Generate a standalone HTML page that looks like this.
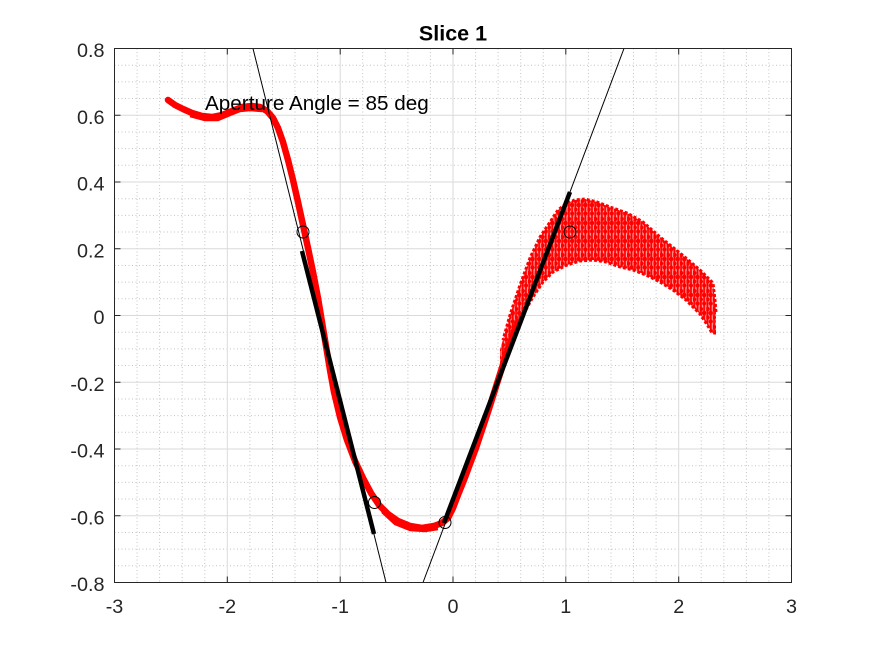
<!DOCTYPE html>
<html>
<head>
<meta charset="utf-8">
<style>
html,body{margin:0;padding:0;background:#fff;}
svg{display:block;}
text{font-family:"Liberation Sans",Arial,sans-serif;}
</style>
</head>
<body>
<svg width="875" height="656" viewBox="0 0 875 656" xmlns="http://www.w3.org/2000/svg">
<defs>
  <clipPath id="ax"><rect x="114.5" y="48.5" width="677" height="534"/></clipPath>
  <pattern id="vl" patternUnits="userSpaceOnUse" x="0" y="0" width="6.6" height="18">
    <rect x="0.3" y="0" width="1.9" height="18" fill="#ff0000"/>
    <rect x="3.6" y="0" width="1.9" height="18" fill="#ff0000"/>
    <circle cx="1.25" cy="3" r="2.3" fill="#ff0000"/>
    <circle cx="1.25" cy="11.5" r="2.1" fill="#ff0000"/>
    <circle cx="4.55" cy="7" r="2.3" fill="#ff0000"/>
    <circle cx="4.55" cy="15.5" r="2.1" fill="#ff0000"/>
  </pattern>
</defs>
<rect x="0" y="0" width="875" height="656" fill="#fff"/>
<rect x="114.5" y="48.5" width="677" height="534" fill="#fff"/>

<!-- minor grid -->
<path fill="none" stroke="#c4c4c4" stroke-width="1" stroke-dasharray="1 2.5" d="
M137.07 48.5V582.5 M159.6 48.5V582.5 M182.2 48.5V582.5 M204.8 48.5V582.5
M249.9 48.5V582.5 M272.5 48.5V582.5 M295 48.5V582.5 M317.6 48.5V582.5
M362.7 48.5V582.5 M385.3 48.5V582.5 M407.9 48.5V582.5 M430.4 48.5V582.5
M475.6 48.5V582.5 M498.1 48.5V582.5 M520.7 48.5V582.5 M543.3 48.5V582.5
M588.4 48.5V582.5 M611 48.5V582.5 M633.5 48.5V582.5 M656.1 48.5V582.5
M701.2 48.5V582.5 M723.8 48.5V582.5 M746.4 48.5V582.5 M768.9 48.5V582.5
M114.5 65.19H791.5 M114.5 81.88H791.5 M114.5 98.56H791.5
M114.5 131.94H791.5 M114.5 148.63H791.5 M114.5 165.31H791.5
M114.5 198.69H791.5 M114.5 215.38H791.5 M114.5 232.06H791.5
M114.5 265.44H791.5 M114.5 282.13H791.5 M114.5 298.81H791.5
M114.5 332.19H791.5 M114.5 348.88H791.5 M114.5 365.56H791.5
M114.5 398.94H791.5 M114.5 415.63H791.5 M114.5 432.31H791.5
M114.5 465.69H791.5 M114.5 482.38H791.5 M114.5 499.06H791.5
M114.5 532.44H791.5 M114.5 549.13H791.5 M114.5 565.81H791.5"/>
<!-- major grid -->
<path fill="none" stroke="#dadada" stroke-width="1" d="
M227.3 48.5V582.5 M340.2 48.5V582.5 M453 48.5V582.5 M565.8 48.5V582.5 M678.7 48.5V582.5
M114.5 115.25H791.5 M114.5 182H791.5 M114.5 248.75H791.5 M114.5 315.5H791.5
M114.5 382.25H791.5 M114.5 449H791.5 M114.5 515.75H791.5"/>

<g clip-path="url(#ax)">
  <!-- red data: band part -->
  <polygon fill="#ff0000" fill-opacity="0.35" points="500,372 513,340 523,315 533,297 543,282 553,272 567,265 580,261 593,260 606,262 620,267 633,270 646,275 660,282 673,290 686,300 700,314 708,326 712,333 716,333 716,312 715,300 713,283 700,270 680,253 660,237 643,222 627,213 610,207 597,202 585,199 575,200 567,203 558,210 550,222 540,237 530,258 520,285 510,315 500,350"/>
  <polygon fill="url(#vl)" points="500,372 513,340 523,315 533,297 543,282 553,272 567,265 580,261 593,260 606,262 620,267 633,270 646,275 660,282 673,290 686,300 700,314 708,326 712,333 716,333 716,312 715,300 713,283 700,270 680,253 660,237 643,222 627,213 610,207 597,202 585,199 575,200 567,203 558,210 550,222 540,237 530,258 520,285 510,315 500,350"/>
  <polyline fill="none" stroke="#ff0000" stroke-width="3" stroke-linejoin="round" stroke-dasharray="3 2" points="505,355 513,340 523,315 533,297 543,282 553,272 567,265 580,261 593,260 606,262 620,267 633,270 646,275 660,282 673,290 686,300 700,314 708,326 712,333 716,333"/>
  <polyline fill="none" stroke="#ff0000" stroke-width="3" stroke-linejoin="round" stroke-dasharray="3 2" points="716,312 715,300 713,283 700,270 680,253 660,237 643,222 627,213 610,207 597,202 585,199 575,200 567,203 558,210 550,222 540,237 530,258 520,285 510,315 503,340"/>
  <!-- red data: main curve -->
  <polyline fill="none" stroke="#ff0000" stroke-width="6.5" stroke-linejoin="round" stroke-linecap="round" points="168,100 175,105 183,109 192,113 202,116 212,117 222,115 232,111 242,107 252,106 260,107 267,111 273,118 278,128 283,142 288,160 293,180 298,202 303,225 308,248 313,272 318,298 322,322 326,346 330,370 334,392 340,417 347,440 355,461 363,478 371,493 379,505 388,514 398,521 410,526 422,528 434,526 442,523 448,518 453,508 458,495 464,480 470,464 476,448 482,430 488,412 494,393 500,374 506,355 512,338 518,322"/>
  <polyline fill="none" stroke="#ff0000" stroke-width="2.5" stroke-linejoin="round" points="190,116 205,120 218,120 230,115 240,111 250,110 262,111"/>
  <polyline fill="none" stroke="#ff0000" stroke-width="2.5" stroke-linejoin="round" points="382,512 395,524 410,530 425,531 438,529"/>

  <!-- thin lines -->
  <line x1="253" y1="48.5" x2="386" y2="582.5" stroke="#000" stroke-width="1"/>
  <line x1="423" y1="582.5" x2="624" y2="48.5" stroke="#000" stroke-width="1"/>
  <!-- thick segments -->
  <line x1="302" y1="251" x2="374" y2="534" stroke="#000" stroke-width="4.5"/>
  <line x1="444" y1="523" x2="570" y2="192" stroke="#000" stroke-width="4.5"/>
  <!-- circles -->
  <g fill="none" stroke="#000" stroke-width="1">
    <circle cx="303" cy="232" r="6"/>
    <circle cx="374.5" cy="502.5" r="6"/>
    <circle cx="445" cy="522.5" r="6"/>
    <circle cx="570" cy="232" r="6"/>
  </g>
</g>

<!-- axes box -->
<rect x="114.5" y="48.5" width="677" height="534" fill="none" stroke="#262626" stroke-width="1"/>
<!-- ticks -->
<path fill="none" stroke="#262626" stroke-width="1" d="
M227.3 582.5V576.5 M340.2 582.5V576.5 M453 582.5V576.5 M565.8 582.5V576.5 M678.7 582.5V576.5
M227.3 48.5V54.5 M340.2 48.5V54.5 M453 48.5V54.5 M565.8 48.5V54.5 M678.7 48.5V54.5
M114.5 115.25H120.5 M114.5 182H120.5 M114.5 248.75H120.5 M114.5 315.5H120.5 M114.5 382.25H120.5 M114.5 449H120.5 M114.5 515.75H120.5
M791.5 115.25H785.5 M791.5 182H785.5 M791.5 248.75H785.5 M791.5 315.5H785.5 M791.5 382.25H785.5 M791.5 449H785.5 M791.5 515.75H785.5"/>

<!-- y tick labels -->
<g font-size="19.8" fill="#262626" text-anchor="end">
  <text x="104.5" y="57">0.8</text>
  <text x="104.5" y="123.75">0.6</text>
  <text x="104.5" y="190.5">0.4</text>
  <text x="104.5" y="257.25">0.2</text>
  <text x="104.5" y="324">0</text>
  <text x="104.5" y="390.75">-0.2</text>
  <text x="104.5" y="457.5">-0.4</text>
  <text x="104.5" y="524.25">-0.6</text>
  <text x="104.5" y="591">-0.8</text>
</g>
<!-- x tick labels -->
<g font-size="19.8" fill="#262626" text-anchor="middle">
  <text x="114.5" y="613">-3</text>
  <text x="227.3" y="613">-2</text>
  <text x="340.2" y="613">-1</text>
  <text x="453" y="613">0</text>
  <text x="565.8" y="613">1</text>
  <text x="678.7" y="613">2</text>
  <text x="791.5" y="613">3</text>
</g>

<!-- annotation -->
<text x="205" y="110" font-size="20.7" fill="#000">Aperture Angle = 85 deg</text>
<!-- title -->
<text x="453" y="40.7" font-size="21.5" font-weight="bold" fill="#000" text-anchor="middle">Slice 1</text>
</svg>
</body>
</html>
